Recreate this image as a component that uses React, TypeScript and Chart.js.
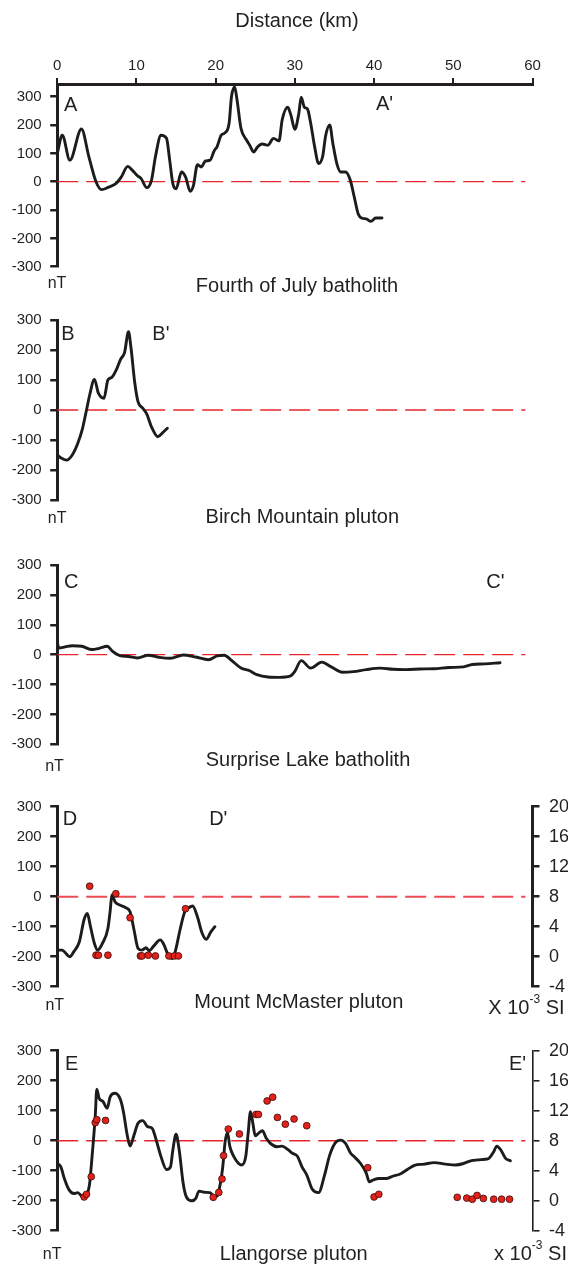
import React, { useEffect, useRef } from 'react';
import { Chart, registerables } from 'chart.js';

Chart.register(...registerables);

const FONT = "'Liberation Sans', Arial, Helvetica, sans-serif";
const INK = '#231f20';

// ---- tick labels ----
const distanceTicks = [0, 10, 20, 30, 40, 50, 60];
const nTTicks = [300, 200, 100, 0, -100, -200, -300];
const siTicks = [20, 16, 12, 8, 4, 0, -4];

// ---- Profile A-A' (Fourth of July batholith) ----
const aKm = [0, 0.64, 1.6, 3.06, 4.0, 4.9, 5.6, 6.5, 7.4, 8.1, 8.9, 9.5, 10.1, 10.6, 11.3, 11.9, 12.4, 13.1, 13.8, 14.2, 14.6, 15.0, 15.7, 16.2, 16.8, 17.2, 17.7, 18.2, 18.7, 19.3, 19.8, 20.2, 20.7, 21.2, 21.7, 22.0, 22.4, 22.7, 23.2, 23.9, 24.3, 24.8, 25.3, 25.9, 26.6, 27.3, 28.0, 28.4, 29.1, 29.5, 30.0, 30.5, 30.8, 31.2, 31.6, 32.0, 32.5, 33.0, 33.5, 33.9, 34.4, 34.8, 35.3, 35.8, 36.4, 37.0, 37.5, 38.0, 38.5, 39.0, 39.6, 40.2, 41.0];
const aNT = [99, 164, 76, 186, 88, 0, -28, -19, -7, 17, 54, 40, 22, 11, -21, 5, 88, 164, 153, 76, -7, -25, 34, 17, -34, -13, 60, 52, 73, 76, 108, 125, 164, 173, 206, 300, 334, 289, 188, 147, 129, 105, 123, 133, 129, 153, 144, 218, 263, 235, 185, 241, 298, 263, 256, 206, 123, 64, 88, 164, 200, 135, 64, 34, 34, 5, -54, -114, -129, -131, -140, -128, -128];

// ---- Profile B-B' (Birch Mountain pluton) ----
const bKm = [0, 0.55, 1.2, 1.9, 2.6, 3.2, 3.7, 4.1, 4.7, 5.2, 5.9, 6.4, 6.9, 7.5, 8.0, 8.5, 9.0, 9.3, 9.8, 10.2, 10.8, 11.3, 11.9, 12.7, 13.3, 13.9];
const bNT = [-150, -161, -167, -150, -111, -61, 0, 50, 102, 56, 39, 100, 109, 136, 169, 191, 261, 211, 89, 28, 6, -13, -56, -89, -76, -61];

// ---- Profile C-C' (Surprise Lake batholith) ----
const cKm = [0, 0.2, 1.0, 1.9, 3.1, 4.4, 5.3, 6.3, 7.0, 7.9, 9.0, 10.1, 11.5, 12.9, 14.3, 15.9, 17.5, 19.1, 20.2, 21.1, 22.0, 23.2, 24.3, 25.2, 26.6, 28.0, 29.4, 30.0, 30.8, 32.0, 33.4, 34.6, 36.0, 37.4, 39.0, 40.8, 42.4, 44.0, 45.8, 47.6, 49.5, 51.3, 52.4, 54.0, 55.9];
const cNT = [45, 22, 26, 30, 28, 17, 21, 28, 11, -3, -6, -11, -2, -9, -12, -1, -8, -17, -4, -2, -19, -45, -54, -67, -75, -76, -72, -56, -20, -45, -25, -41, -59, -57, -50, -45, -49, -50, -48, -47, -43, -41, -33, -31, -27];

// ---- Profile D-D' (Mount McMaster pluton) ----
const dKm = [0, 0.6, 1.6, 2.1, 2.8, 3.4, 3.8, 4.2, 4.7, 5.1, 5.7, 6.4, 6.7, 6.9, 7.3, 7.9, 8.6, 9.2, 9.7, 10.2, 10.7, 11.2, 11.6, 12.2, 13.0, 13.4, 14.0, 14.5, 14.9, 15.5, 16.1, 16.6, 17.1, 17.7, 18.3, 18.8, 19.4, 19.9];
const dNT = [-178, -178, -200, -183, -150, -76, -56, -100, -156, -178, -156, -106, -44, 6, -17, -28, -36, -50, -111, -172, -178, -170, -180, -164, -144, -156, -194, -206, -183, -111, -50, -37, -31, -67, -122, -142, -117, -100];
const dSusKm = [4.1, 4.9, 5.2, 6.4, 7.4, 9.2, 10.5, 10.7, 11.5, 12.4, 14.1, 14.8, 15.3, 16.2];
const dSusSI = [9.4, 0.2, 0.2, 0.2, 8.4, 5.2, 0.1, 0.1, 0.2, 0.1, 0.1, 0.1, 0.1, 6.4];

// ---- Profile E-E' (Llangorse pluton) ----
const eKm = [0, 0.46, 0.9, 1.5, 2.1, 2.6, 3.2, 3.7, 4.1, 4.4, 4.8, 5.0, 5.3, 5.8, 6.3, 6.7, 7.3, 8.0, 8.4, 8.8, 9.2, 9.7, 10.2, 10.8, 11.4, 12.0, 12.5, 13.1, 13.8, 14.3, 14.6, 15.0, 15.4, 15.9, 16.3, 17.0, 17.5, 17.9, 18.6, 19.3, 19.8, 20.2, 20.6, 20.9, 21.2, 21.5, 21.8, 22.3, 22.9, 23.3, 23.8, 24.1, 24.4, 24.7, 25.0, 25.5, 25.9, 26.4, 27.0, 27.8, 28.4, 29.1, 29.7, 30.3, 30.9, 31.5, 32.2, 33.0, 33.7, 34.4, 35.1, 35.8, 36.4, 37.0, 37.6, 38.3, 39.0, 39.4, 39.9, 40.6, 41.5, 42.4, 43.3, 44.2, 45.1, 46.3, 47.6, 49.0, 50.3, 51.3, 52.2, 53.1, 54.0, 54.5, 55.1, 55.5, 56.0, 56.6, 57.2];
const eNT = [-76, -87, -126, -164, -176, -173, -187, -181, -142, -53, 80, 172, 141, 130, 108, 147, 158, 136, 91, 24, -18, 19, 58, 67, 47, 41, 2, -53, -96, -87, -31, 22, -31, -142, -187, -200, -192, -168, -172, -173, -187, -184, -142, -87, -3, 27, -20, -53, -76, -81, -53, 24, 97, 58, 16, 27, 33, 8, -11, -20, -18, -29, -42, -51, -87, -114, -162, -173, -120, -48, -7, 2, -9, -40, -56, -76, -107, -137, -131, -126, -126, -118, -111, -96, -82, -78, -73, -78, -81, -76, -67, -64, -62, -59, -37, -18, -31, -59, -67];
const eSusKm = [3.4, 3.7, 4.3, 4.8, 5.0, 6.1, 19.7, 20.4, 20.8, 21.0, 21.6, 23.0, 25.1, 25.4, 26.5, 27.2, 27.8, 28.8, 29.9, 31.5, 39.2, 40.0, 40.6, 50.5, 51.7, 52.4, 53.0, 53.8, 55.1, 56.1, 57.1];
const eSusSI = [0.5, 0.85, 3.2, 10.4, 10.8, 10.7, 0.45, 1.1, 2.9, 6.0, 9.55, 8.9, 11.5, 11.5, 13.3, 13.8, 11.1, 10.2, 10.9, 10.0, 4.4, 0.5, 0.85, 0.45, 0.35, 0.2, 0.7, 0.3, 0.2, 0.2, 0.2];

// zero reference line extent (km)
const zeroLineKm = [0, 59.1];
const zeroLineNT = [0, 0];

const zip = (xs: number[], ys: number[]) => xs.map((x, i) => ({ x, y: ys[i] }));

const PLOT_LEFT = 57.2;
const PLOT_RIGHT = 532.5;
const W = 568;

type PanelSpec = {
  key: string;
  chartTop: number;
  chartBottom: number;
  yMax: number;
  topAxis: boolean;
  km: number[];
  nt: number[];
  susKm?: number[];
  susSI?: number[];
  rightAxis: boolean;
  rightBorder: number;
  dashColor: string;
  dashWidth: number;
};

const panels: PanelSpec[] = [
  { key: 'A', chartTop: 84, chartBottom: 266.7, yMax: 344.8, topAxis: true, km: aKm, nt: aNT, rightAxis: false, rightBorder: 0, dashColor: '#e8262b', dashWidth: 1.3 },
  { key: 'B', chartTop: 320, chartBottom: 500, yMax: 300, topAxis: false, km: bKm, nt: bNT, rightAxis: false, rightBorder: 0, dashColor: '#e8262b', dashWidth: 1.3 },
  { key: 'C', chartTop: 565, chartBottom: 744.3, yMax: 300, topAxis: false, km: cKm, nt: cNT, rightAxis: false, rightBorder: 0, dashColor: '#e8262b', dashWidth: 1.3 },
  { key: 'D', chartTop: 806.7, chartBottom: 986.7, yMax: 300, topAxis: false, km: dKm, nt: dNT, susKm: dSusKm, susSI: dSusSI, rightAxis: true, rightBorder: 3, dashColor: '#ec4b53', dashWidth: 2 },
  { key: 'E', chartTop: 1050.7, chartBottom: 1230.7, yMax: 300, topAxis: false, km: eKm, nt: eNT, susKm: eSusKm, susSI: eSusSI, rightAxis: true, rightBorder: 1.6, dashColor: '#e8262b', dashWidth: 1.4 },
];

function geometry(p: PanelSpec) {
  const canvasTop = p.topAxis ? 0 : Math.floor(p.chartTop) - 20;
  const padTop = p.topAxis ? 0 : p.chartTop - canvasTop;
  const canvasH = Math.ceil(p.chartBottom + 22 - canvasTop);
  const padBottom = canvasH - (p.chartBottom - canvasTop);
  return { canvasTop, padTop, canvasH, padBottom };
}

function buildConfig(p: PanelSpec): any {
  const g = geometry(p);
  const datasets: any[] = [];
  if (p.susKm && p.susSI) {
    datasets.push({
      label: 'susceptibility',
      data: zip(p.susKm, p.susSI),
      yAxisID: 'y1',
      showLine: false,
      pointRadius: 3.4,
      pointBackgroundColor: '#e3221c',
      pointBorderColor: '#3b0b0b',
      pointBorderWidth: 0.8,
    });
  }
  datasets.push({
    label: 'magnetic',
    data: zip(p.km, p.nt),
    yAxisID: 'y',
    borderColor: '#1c1c1c',
    borderWidth: 2.9,
    pointRadius: 0,
    cubicInterpolationMode: 'monotone',
    fill: false,
    borderJoinStyle: 'round',
    borderCapStyle: 'round',
  });
  datasets.push({
    label: 'zero',
    data: zip(zeroLineKm, zeroLineNT),
    yAxisID: 'y',
    borderColor: p.dashColor,
    borderWidth: p.dashWidth,
    borderDash: [21, 8],
    pointRadius: 0,
    fill: false,
  });

  return {
    type: 'line',
    data: { datasets },
    options: {
      responsive: false,
      animation: false,
      devicePixelRatio: 1,
      events: [],
      layout: {
        padding: {
          left: 0,
          right: 0,
          top: g.padTop,
          bottom: g.padBottom,
        },
      },
      plugins: { legend: { display: false }, tooltip: { enabled: false }, title: { display: false } },
      scales: {
        x: {
          type: 'linear',
          min: 0,
          max: 60,
          position: 'top',
          display: p.topAxis,
          afterBuildTicks: (s: any) => { s.ticks = distanceTicks.map((v) => ({ value: v })); },
          afterFit: (s: any) => { s.height = p.topAxis ? p.chartTop - g.canvasTop - g.padTop : 0; },
          grid: { drawOnChartArea: false, drawTicks: true, tickLength: 6, color: INK, lineWidth: 2 },
          border: { display: true, width: 3, color: INK },
          ticks: { font: { family: FONT, size: 15 }, color: INK, padding: 3, maxRotation: 0, autoSkip: false },
        },
        y: {
          type: 'linear',
          min: -300,
          max: p.yMax,
          position: 'left',
          afterBuildTicks: (s: any) => { s.ticks = nTTicks.map((v) => ({ value: v })); },
          afterFit: (s: any) => { s.width = PLOT_LEFT; },
          grid: { drawOnChartArea: false, drawTicks: true, tickLength: 7, color: INK, lineWidth: 2.5 },
          border: { display: true, width: 3, color: INK },
          ticks: { font: { family: FONT, size: 15 }, color: INK, padding: 8.5, autoSkip: false },
        },
        y1: {
          type: 'linear',
          min: -4,
          max: 20,
          position: 'right',
          display: p.rightAxis,
          afterBuildTicks: (s: any) => { s.ticks = siTicks.map((v) => ({ value: v })); },
          afterFit: (s: any) => { s.width = W - PLOT_RIGHT; },
          grid: { drawOnChartArea: false, drawTicks: true, tickLength: 7, color: INK, lineWidth: p.rightBorder > 2 ? 2.5 : 1.6 },
          border: { display: true, width: p.rightBorder || 1, color: INK },
          ticks: { font: { family: FONT, size: 18 }, color: INK, padding: 9.5, crossAlign: 'near', autoSkip: false },
        },
      },
    },
  };
}

function Panel({ p }: { p: PanelSpec }) {
  const ref = useRef<HTMLCanvasElement>(null);
  const g = geometry(p);
  useEffect(() => {
    if (!ref.current) return;
    const chart = new Chart(ref.current, buildConfig(p));
    return () => chart.destroy();
  }, []);
  return (
    <canvas
      ref={ref}
      width={W}
      height={g.canvasH}
      style={{ position: 'absolute', left: 0, top: g.canvasTop, width: W, height: g.canvasH }}
    />
  );
}

type LabelProps = { x: number; y: number; size: number; children: React.ReactNode; left?: boolean };
function Label({ x, y, size, children, left }: LabelProps) {
  return (
    <div
      style={{
        position: 'absolute',
        left: x,
        top: y,
        transform: left ? 'translate(0,-50%)' : 'translate(-50%,-50%)',
        fontSize: size,
        lineHeight: 1,
        whiteSpace: 'nowrap',
        color: INK,
        fontFamily: FONT,
      }}
    >
      {children}
    </div>
  );
}

const SI = ({ x }: { x: string }) => (
  <span>
    {x} 10<span style={{ fontSize: 12, position: 'relative', top: -11 }}>-3</span> SI
  </span>
);

export default function App() {
  return (
    <div style={{ position: 'absolute', left: 0, top: 0, width: W, height: 1264, background: '#fff', overflow: 'hidden', fontFamily: FONT }}>
      {panels.map((p) => (
        <Panel key={p.key} p={p} />
      ))}
      <Label x={297} y={20} size={20}>Distance (km)</Label>

      <Label x={70.7} y={103.7} size={20}>A</Label>
      <Label x={384.5} y={103.3} size={20}>A'</Label>
      <Label x={57} y={283} size={16}>nT</Label>
      <Label x={297} y={285.2} size={20}>Fourth of July batholith</Label>

      <Label x={67.8} y={333} size={20}>B</Label>
      <Label x={160.9} y={333} size={20}>B'</Label>
      <Label x={57.2} y={517.5} size={16}>nT</Label>
      <Label x={302.3} y={516} size={20}>Birch Mountain pluton</Label>

      <Label x={71.3} y={581} size={20}>C</Label>
      <Label x={495.5} y={581} size={20}>C'</Label>
      <Label x={54.5} y={766} size={16}>nT</Label>
      <Label x={308} y={759} size={20}>Surprise Lake batholith</Label>

      <Label x={70} y={818} size={20}>D</Label>
      <Label x={218.3} y={818} size={20}>D'</Label>
      <Label x={54.8} y={1005} size={16}>nT</Label>
      <Label x={298.8} y={1001} size={20}>Mount McMaster pluton</Label>
      <Label x={488.3} y={1007} size={20} left><SI x="X" /></Label>

      <Label x={71.7} y={1062.5} size={20}>E</Label>
      <Label x={517.5} y={1062.5} size={20}>E'</Label>
      <Label x={52.2} y={1254} size={16}>nT</Label>
      <Label x={293.8} y={1252.5} size={20}>Llangorse pluton</Label>
      <Label x={494} y={1252.5} size={20} left><SI x="x" /></Label>
    </div>
  );
}
